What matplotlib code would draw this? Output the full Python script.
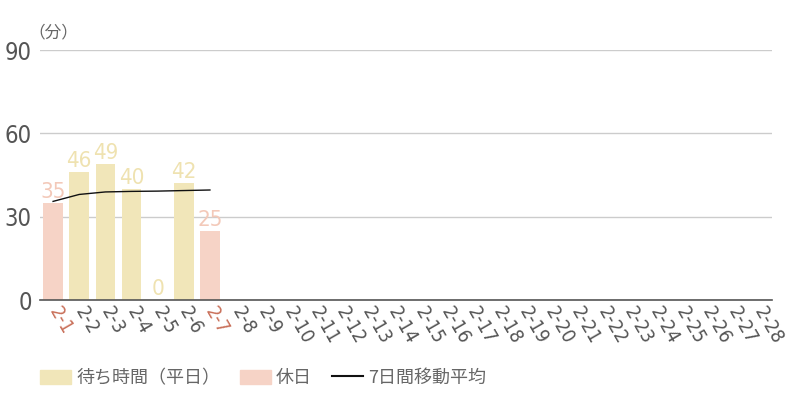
import numpy as np
import matplotlib.pyplot as plt
from matplotlib.patches import Patch
from matplotlib.lines import Line2D

plt.rcParams['font.family'] = ['Noto Sans CJK JP', 'DejaVu Sans']

# data
days = ['2-%d' % d for d in range(1, 29)]
holiday_days = ['2-1', '2-7']
waits = [35, 46, 49, 40, 0, 42, 25]
moving_avg = [35.5, 38.0, 38.9, 39.1, 39.2, 39.4, 39.6]
yticks = [0, 30, 60, 90]

weekday_color = '#f1e6b9'
holiday_color = '#f6d3c6'
weekday_text = '#efe2b0'
holiday_text = '#f3c9b9'
holiday_tick = '#c9705a'
num_font = dict(family='DejaVu Sans', fontstretch='condensed')

fig = plt.figure(figsize=(8, 4), dpi=100)
ax = fig.add_axes([0.05, 0.25, 0.915, 0.625])

x = np.arange(len(days))
for i, v in enumerate(waits):
    hol = days[i] in holiday_days
    ax.bar(x[i], v, width=0.75, color=holiday_color if hol else weekday_color, zorder=2)
    ax.text(x[i], v + 0.3, str(v), ha='center', va='bottom', fontsize=16,
            color=holiday_text if hol else weekday_text, zorder=3, **num_font)

ax.plot(x[:len(moving_avg)], moving_avg, color='#111111', lw=1.0, zorder=4)

ax.set_xlim(-0.5, len(days) - 0.5)
ax.set_ylim(0, 90)
ax.set_yticks(yticks)
ax.set_yticklabels([str(t) for t in yticks], fontsize=17, color='#555555', **num_font)
ax.grid(axis='y', color='#cccccc', lw=1, zorder=0)
ax.tick_params(axis='y', length=0, pad=6)
ax.tick_params(axis='x', length=0, pad=6)

ax.set_xticks(x)
ax.set_xticklabels(days, rotation=-60, ha='left', va='center', rotation_mode='anchor',
                   fontsize=14, color='#555555', **num_font)
for lbl in ax.get_xticklabels():
    if lbl.get_text() in holiday_days:
        lbl.set_color(holiday_tick)

for s in ['top', 'right', 'left']:
    ax.spines[s].set_visible(False)
ax.spines['bottom'].set_color('#555555')
ax.spines['bottom'].set_linewidth(1.2)

fig.text(0.035, 0.918, '（分）', fontsize=12, color='#666666', ha='left', va='center')

handles = [Patch(color=weekday_color), Patch(color=holiday_color),
           Line2D([0], [0], color='#111111', lw=1.5)]
labels = ['待ち時間（平日）', '休日', '7日間移動平均']
fig.legend(handles, labels, loc='center left', bbox_to_anchor=(0.05, 0.055), ncol=3,
           frameon=False, fontsize=13, handlelength=1.7, handleheight=0.85,
           columnspacing=1.1, handletextpad=0.3, borderpad=0, borderaxespad=0,
           labelcolor='#666666')

fig.savefig('out.png', dpi=100)
